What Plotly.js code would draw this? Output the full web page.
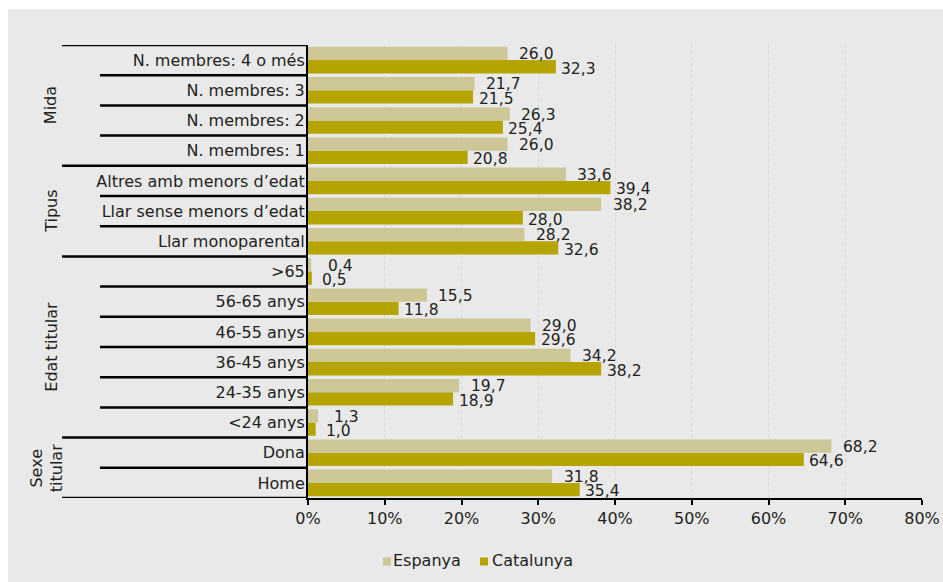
<!DOCTYPE html>
<html>
<head>
<meta charset="utf-8">
<script src="https://cdn.plot.ly/plotly-3.0.1.min.js"></script>
<style>
html,body{margin:0;padding:0;background:#ffffff;}
#chart{position:absolute;left:8px;top:9px;width:935px;height:573px;}
</style>
</head>
<body>
<div id="chart"></div>
<script>
// Categories from bottom to top
const categories = [
  "Home", "Dona",
  "<24 anys", "24-35 anys", "36-45 anys", "46-55 anys", "56-65 anys", ">65",
  "Llar monoparental", "Llar sense menors d’edat", "Altres amb menors d’edat",
  "N. membres: 1", "N. membres: 2", "N. membres: 3", "N. membres: 4 o més"
];
const seriesNames = ["Espanya", "Catalunya"];
const espanya   = [31.8, 68.2, 1.3, 19.7, 34.2, 29.0, 15.5, 0.4, 28.2, 38.2, 33.6, 26.0, 26.3, 21.7, 26.0];
const catalunya = [35.4, 64.6, 1.0, 18.9, 38.2, 29.6, 11.8, 0.5, 32.6, 28.0, 39.4, 20.8, 25.4, 21.5, 32.3];
const groups = [
  {name: "Sexe<br>titular", from: 0, to: 1},
  {name: "Edat titular", from: 2, to: 7},
  {name: "Tipus", from: 8, to: 10},
  {name: "Mida", from: 11, to: 14}
];
const xTicks = [0, 10, 20, 30, 40, 50, 60, 70, 80];

const fmt = v => v.toFixed(1).replace('.', ',');
const FONT = "'DejaVu Sans', sans-serif";
const TXT = "#231f20";
const C_ESP = '#cdc797', C_CAT = '#b5a400';

const traces = [
  {type: 'bar', orientation: 'h', name: seriesNames[1], x: catalunya, y: categories,
   marker: {color: C_CAT}, showlegend: false, hoverinfo: 'x+y'},
  {type: 'bar', orientation: 'h', name: seriesNames[0], x: espanya, y: categories,
   marker: {color: C_ESP}, showlegend: false, hoverinfo: 'x+y'}
];

const annotations = [];
categories.forEach((c, i) => {
  annotations.push({x: espanya[i], y: c, xref: 'x', yref: 'y', text: fmt(espanya[i]),
    showarrow: false, xanchor: 'center', yanchor: 'middle', xshift: 29, yshift: 6,
    font: {family: FONT, size: 15.5, color: TXT}});
  annotations.push({x: catalunya[i], y: c, xref: 'x', yref: 'y', text: fmt(catalunya[i]),
    showarrow: false, xanchor: 'center', yanchor: 'middle', xshift: 23, yshift: -8.5,
    font: {family: FONT, size: 15.5, color: TXT}});
});

const shapes = [];
const LONG = -0.4007, SHORT = -0.3388;
for (let b = 0; b <= categories.length; b++) {
  const yb = b - 0.5;
  const isGroup = groups.some(g => g.from === b) || b === categories.length;
  shapes.push({type: 'line', xref: 'paper', yref: 'y', x0: isGroup ? LONG : SHORT, x1: 0,
    y0: yb, y1: yb, line: {color: '#000000', width: 2.5}, layer: 'above'});
}
groups.forEach(g => {
  const two = g.name.indexOf('<br>') >= 0;
  annotations.push({x: two ? -0.426 : -0.419, y: (g.from + g.to) / 2, xref: 'paper', yref: 'y',
    text: g.name, showarrow: false, textangle: -90, xanchor: 'center', yanchor: 'middle',
    font: {family: FONT, size: 16, color: TXT}});
});

// Legend (small squares right before the names, as in the reference)
const legendItems = [
  {name: seriesNames[0], color: C_ESP, sq: 0.1221, tx: 0.1350},
  {name: seriesNames[1], color: C_CAT, sq: 0.2801, tx: 0.2962}
];
legendItems.forEach(it => {
  shapes.push({type: 'rect', xref: 'paper', yref: 'paper', x0: it.sq, x1: it.sq + 0.0131,
    y0: -0.149, y1: -0.1313, fillcolor: it.color, line: {width: 0}});
  annotations.push({x: it.tx, y: -0.139, xref: 'paper', yref: 'paper', text: it.name,
    showarrow: false, xanchor: 'left', yanchor: 'middle',
    font: {family: FONT, size: 16, color: TXT}});
});

const layout = {
  width: 935, height: 573,
  margin: {l: 300, r: 21, t: 36, b: 84},
  paper_bgcolor: '#e9e9e9', plot_bgcolor: '#e9e9e9',
  font: {family: FONT, size: 16, color: TXT},
  barmode: 'group', bargap: 0.12, bargroupgap: 0,
  showlegend: false,
  xaxis: {range: [0, 80], tickvals: xTicks, ticktext: xTicks.map(v => v + '%'),
    showgrid: true, gridcolor: '#d8d8d8', griddash: 'dot', gridwidth: 1,
    zeroline: false, showline: true, linecolor: '#000000', linewidth: 2,
    ticks: 'outside', ticklen: 5, tickwidth: 2, tickcolor: '#000000',
    tickfont: {family: FONT, size: 16, color: TXT}, fixedrange: true},
  yaxis: {type: 'category', categoryorder: 'array', categoryarray: categories,
    range: [-0.5, categories.length - 0.5],
    showgrid: false, zeroline: false, showline: true, linecolor: '#000000', linewidth: 2,
    ticks: '', ticklabelstandoff: -2, tickfont: {family: FONT, size: 16, color: TXT}, fixedrange: true},
  shapes: shapes,
  annotations: annotations
};

Plotly.newPlot('chart', traces, layout, {displayModeBar: false, staticPlot: true});
</script>
</body>
</html>
